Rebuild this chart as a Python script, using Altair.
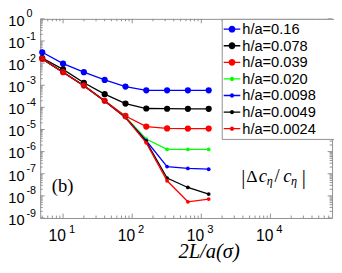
import altair as alt
import pandas as pd

# ---------------- data ----------------
x_vals = [5, 10, 20, 40, 80, 160, 320, 640, 1280]
labels = ["h/a=0.16", "h/a=0.078", "h/a=0.039", "h/a=0.020",
          "h/a=0.0098", "h/a=0.0049", "h/a=0.0024"]
colors = ["#0000ff", "#000000", "#ff0000", "#00ff00", "#0000ff", "#000000", "#ff0000"]
big_marker = [True, True, True, False, False, False, False]

s_016 = [3.1e-2, 9.5e-3, 3.9e-3, 1.75e-3, 8.75e-4, 5.9e-4, 5.9e-4, 5.9e-4, 5.9e-4]
s_0078 = [1.71e-2, 5.2e-3, 1.3e-3, 3.96e-4, 1.48e-4, 8.9e-5, 8.7e-5, 8.6e-5, 8.6e-5]
s_0039 = [1.55e-2, 3.9e-3, 9.7e-4, 1.98e-4, 4.1e-5, 1.36e-5, 1.12e-5, 1.1e-5, 1.1e-5]
s_0020 = [1.55e-2, 3.9e-3, 9.6e-4, 1.95e-4, 3.65e-5, 3.7e-6, 1.26e-6, 1.25e-6, 1.25e-6]
s_00098 = [1.55e-2, 3.9e-3, 9.6e-4, 1.95e-4, 3.5e-5, 3.1e-6, 2.1e-7, 1.74e-7, 1.6e-7]
s_00049 = [1.55e-2, 3.9e-3, 9.6e-4, 1.95e-4, 3.5e-5, 2.8e-6, 6.4e-8, 2.4e-8, 1.2e-8]
s_00024 = [1.55e-2, 3.9e-3, 9.6e-4, 1.95e-4, 3.5e-5, 2.5e-6, 4.8e-8, 5.4e-9, 7.2e-9]
series_values = [s_016, s_0078, s_0039, s_0020, s_00098, s_00049, s_00024]

x_exps = [1, 2, 3, 4]
y_exps = [0, -1, -2, -3, -4, -5, -6, -7, -8, -9]
x_minor = [m * 10 ** k for k in range(0, 5) for m in range(2, 10)]
y_minor = [m * 10.0 ** k for k in range(-9, 0) for m in range(2, 10)]

# ---------------- build ----------------
W, H = 299, 204
X_DOM = [4.67, 7.8e4]
Y_DOM = [1e-9, 1]
GRAY = "#8f8f8f"

rows = []
for lab, vals in zip(labels, series_values):
    for xv, yv in zip(x_vals, vals):
        rows.append({"series": lab, "x": xv, "y": yv})
df = pd.DataFrame(rows)

xs = alt.Scale(type="log", domain=X_DOM, nice=False)
ys = alt.Scale(type="log", domain=Y_DOM, nice=False)
X = alt.X("x:Q", scale=xs, axis=None)
Y = alt.Y("y:Q", scale=ys, axis=None)

layers = []

# ticks (inward, all four sides)
xt_major = pd.DataFrame({"x": [10.0 ** e for e in x_exps]})
xt_minor = pd.DataFrame({"x": [v for v in x_minor if X_DOM[0] <= v <= X_DOM[1]]})
yt_major = pd.DataFrame({"y": [10.0 ** e for e in y_exps]})
yt_minor = pd.DataFrame({"y": y_minor})
for d, ln in [(xt_major, 4.5), (xt_minor, 2.5)]:
    for y0, y1 in [(H, H - ln), (0, ln)]:
        layers.append(alt.Chart(d).mark_rule(color=GRAY, strokeWidth=1).encode(
            x=X, y=alt.value(y0), y2=alt.value(y1)))
for d, ln in [(yt_major, 4.5), (yt_minor, 2.5)]:
    for x0, x1 in [(0, ln), (W, W - ln)]:
        layers.append(alt.Chart(d).mark_rule(color=GRAY, strokeWidth=1).encode(
            y=Y, x=alt.value(x0), x2=alt.value(x1)))

# series
for lab, col, bg in zip(labels, colors, big_marker):
    sub = alt.Chart(df).transform_filter(alt.datum.series == lab)
    layers.append(sub.mark_line(color=col, strokeWidth=1.3).encode(x=X, y=Y))
    layers.append(sub.mark_circle(color=col, opacity=1, size=40 if bg else 15).encode(x=X, y=Y))

# legend via an empty layer with custom symbol paths (line + dot)
def sym(r):
    t = 0.08
    return (f"M-1,-{t}H1V{t}H-1Z"
            f"M-{r},0A{r},{r} 0 1,1 {r},0A{r},{r} 0 1,1 -{r},0Z")

paths = [sym(0.41) if b else sym(0.26) for b in big_marker]
pad_txt = "\u2800\u2800"
leg = alt.Legend(title=None, orient="none", legendX=186, legendY=0, padding=2,
                 symbolSize=289, labelFont="Liberation Sans", labelFontSize=15,
                 labelColor="black", labelOffset=2, rowPadding=0,
                 strokeColor=GRAY, fillColor="white", symbolOpacity=1,
                 symbolStrokeWidth=0, labelExpr="datum.label + '" + pad_txt + "'")
layers.append(alt.Chart(df).transform_filter("false").mark_point(filled=True, opacity=1).encode(
    color=alt.Color("series:N", scale=alt.Scale(domain=labels, range=colors), legend=leg),
    shape=alt.Shape("series:N", scale=alt.Scale(domain=labels, range=paths), legend=leg),
))

# tick labels
ylab = pd.DataFrame({"y": [10.0 ** e for e in y_exps], "t": [str(e) for e in y_exps]})
xlab = pd.DataFrame({"x": [10.0 ** e for e in x_exps], "t": [str(e) for e in x_exps]})
layers.append(alt.Chart(ylab).mark_text(text="10", align="right", baseline="middle", dy=2,
              font="Liberation Sans", fontSize=15, color="black").encode(y=Y, x=alt.value(-16)))
layers.append(alt.Chart(ylab).mark_text(align="left", baseline="middle", dy=-4.5,
              font="Liberation Sans", fontSize=11, color="black").encode(
              y=Y, x=alt.value(-14), text="t:N"))
layers.append(alt.Chart(xlab).mark_text(text="10", align="right", baseline="middle", dx=3,
              font="Liberation Sans", fontSize=16, color="black").encode(x=X, y=alt.value(H + 19)))
layers.append(alt.Chart(xlab).mark_text(align="left", baseline="middle", dx=6,
              font="Liberation Sans", fontSize=11.5, color="black").encode(
              x=X, y=alt.value(H + 12.5), text="t:N"))

# axis title and annotations
L0, T0 = 41, 16
layers.append(alt.Chart(pd.DataFrame({"t": ["2L/a(σ)"]})).mark_text(
    align="center", baseline="alphabetic", font="Liberation Serif", fontStyle="italic",
    fontSize=21, color="black").encode(text="t:N", x=alt.value(214 - L0), y=alt.value(261 - T0)))
layers.append(alt.Chart(pd.DataFrame({"t": ["(b)"]})).mark_text(
    align="center", baseline="middle", font="Liberation Serif", fontSize=19,
    color="black").encode(text="t:N", x=alt.value(64 - L0), y=alt.value(187 - T0)))

pieces = [
    (247, "|", "normal", 21, 185),
    (252, "Δ", "normal", 18, 183),
    (265, "c", "italic", 19, 183),
    (273, "η", "italic", 12.5, 186),
    (281, "/", "normal", 19, 183),
    (290, "c", "italic", 19, 183),
    (298, "η", "italic", 12.5, 186),
    (309, "|", "normal", 21, 185),
]
for px, t, st, fs, by in pieces:
    layers.append(alt.Chart(pd.DataFrame({"t": [t]})).mark_text(
        align="left", baseline="alphabetic", font="Liberation Serif", fontStyle=st,
        fontSize=fs, color="black").encode(text="t:N", x=alt.value(px - L0), y=alt.value(by - T0)))

chart = alt.layer(*layers).properties(
    width=W, height=H,
    padding={"left": L0 - 8, "top": T0 - 8, "right": 2, "bottom": 45},
    autosize=alt.AutoSizeParams(type="none"),
).configure_view(stroke=GRAY, strokeWidth=1)

chart.save("out.html", embed_options={"renderer": "svg", "actions": False})
